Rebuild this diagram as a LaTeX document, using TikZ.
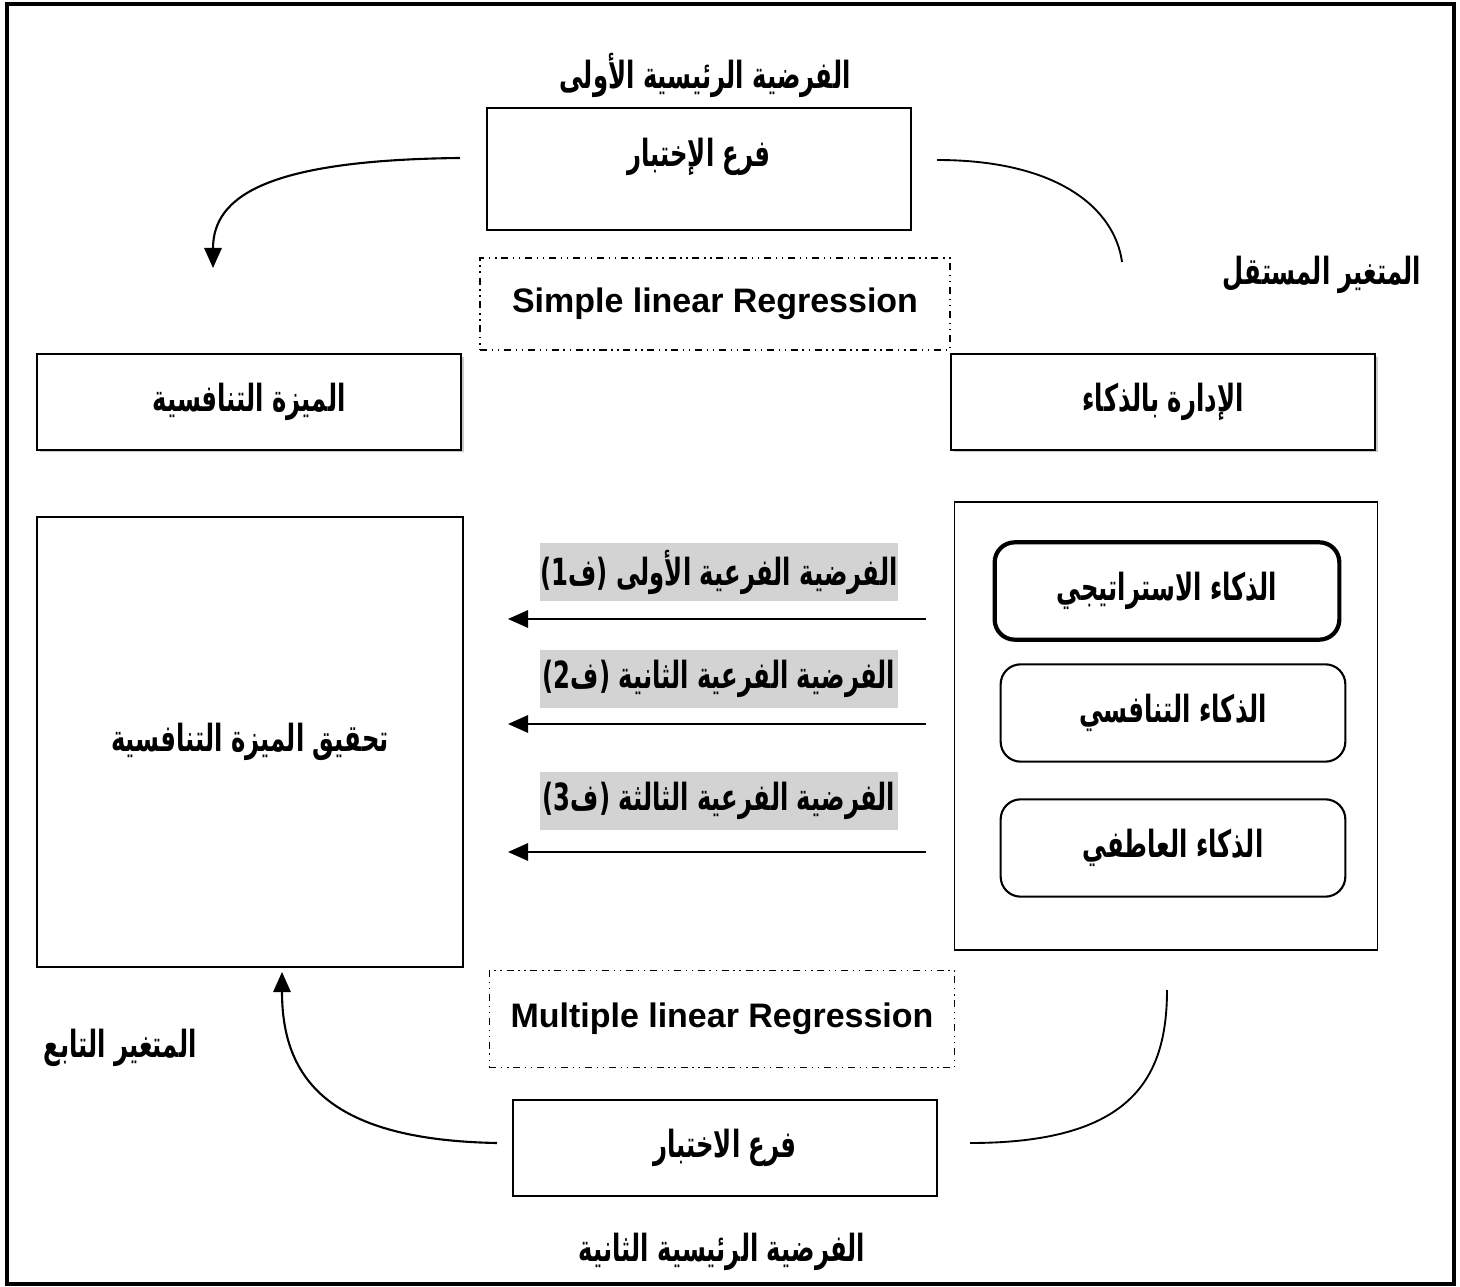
\documentclass[tikz,border=0pt]{standalone}
\usepackage{fontspec}
\setmainfont{Liberation Sans}
\newfontfamily\arabicfont[Script=Arabic,Scale=1.1,FakeStretch=0.65]{DejaVu Sans}
\TeXXeTstate=1
\usepackage{tikz}
\usetikzlibrary{arrows.meta,shadows}
\newcommand{\artxt}[1]{{\arabicfont\bfseries\beginR #1\endR}}
\definecolor{hypgray}{RGB}{211,211,211}
\tikzset{
  box/.style={draw,line width=0.8pt,minimum width=6.36cm,minimum height=1.43cm},
  regbox/.style={draw,line width=0.6pt,dash dot dot,minimum height=1.4cm},
  intbox/.style={draw,line width=0.9pt,rounded corners=0.3cm,minimum width=5.17cm,minimum height=1.46cm},
  hyplabel/.style={fill=hypgray,minimum width=5.37cm,minimum height=0.87cm,inner sep=0pt},
  shadowed/.style={fill=white,drop shadow={shadow xshift=0.04cm,shadow yshift=-0.04cm,fill=gray!70,opacity=0.6}},
  link/.style={line width=0.8pt},
  arr/.style={line width=0.9pt,-{Triangle[length=3mm,width=2.6mm]}}
}
\begin{document}
\begin{tikzpicture}[x=0.015cm,y=-0.015cm,font=\fontsize{14.5}{17}\selectfont]
        \useasboundingbox (0,0) rectangle (1460,1287);
        \draw[line width=1.7pt] (7,4) rectangle (1454,1284);
        % titles and variable labels
        \node (title1) at (705,75) {\artxt{الفرضية الرئيسية الأولى}};
        \node (title2) at (722,1252) {\artxt{الفرضية الرئيسية الثانية}};
        \node (indep) at (1322,275) {\artxt{المتغير المستقل}};
        \node (dep) at (120,1048) {\artxt{المتغير التابع}};
        % test boxes
        \node[box,minimum height=1.83cm,text depth=0.5cm] (test1) at (699,169) {\artxt{فرع الإختبار}};
        \node[box] (test2) at (725,1148) {\artxt{فرع الاختبار}};
        \node[regbox,minimum width=7.05cm,minimum height=1.38cm] (simple) at (715,304) {\textbf{Simple linear Regression}};
        \node[regbox,minimum width=6.98cm,minimum height=1.46cm] (multi) at (722,1019) {\textbf{Multiple linear Regression}};
        % variables
        \node[box,shadowed] (mizah) at (249,402) {\artxt{الميزة التنافسية}};
        \node[box,shadowed] (idara) at (1163,402) {\artxt{الإدارة بالذكاء}};
        \node[box,minimum width=6.39cm,minimum height=6.75cm] (achieve) at (250,742) {\artxt{تحقيق الميزة التنافسية}};
        \node[box,line width=0.6pt,minimum width=6.35cm,minimum height=6.72cm] (intel) at (1166,726) {};
        \node[intbox,line width=1.8pt] (strat) at (1167,591) {\artxt{الذكاء الاستراتيجي}};
        \node[intbox] (comp) at (1173,713) {\artxt{الذكاء التنافسي}};
        \node[intbox] (emo) at (1173,848) {\artxt{الذكاء العاطفي}};
        % sub hypotheses
        \node[hyplabel] (h1) at (719,572) {\artxt{الفرضية الفرعية الأولى (ف1)}};
        \node[hyplabel] (h2) at (719,679) {\artxt{الفرضية الفرعية الثانية (ف2)}};
        \node[hyplabel] (h3) at (719,801) {\artxt{الفرضية الفرعية الثالثة (ف3)}};
        \coordinate (s1) at (926,619); \coordinate (e1) at (508,619);
        \coordinate (s2) at (926,724); \coordinate (e2) at (508,724);
        \coordinate (s3) at (926,852); \coordinate (e3) at (508,852);
        \draw[arr] (s1) -- (e1);
        \draw[arr] (s2) -- (e2);
        \draw[arr] (s3) -- (e3);
        % curved links
        \coordinate (tl) at (460,158); \coordinate (tlend) at (213,268);
        \coordinate (tr) at (937,160); \coordinate (trend) at (1122,262);
        \coordinate (bl) at (497,1143); \coordinate (blend) at (282,972);
        \coordinate (br) at (970,1143); \coordinate (brend) at (1167,990);
        \draw[arr] (tl) .. controls (270,160) and (213,195) .. (tlend);
        \draw[link] (tr) .. controls (1060,160) and (1115,210) .. (trend);
        \draw[arr] (bl) .. controls (330,1140) and (282,1080) .. (blend);
        \draw[link] (br) .. controls (1130,1143) and (1167,1080) .. (brend);
\end{tikzpicture}
\end{document}
